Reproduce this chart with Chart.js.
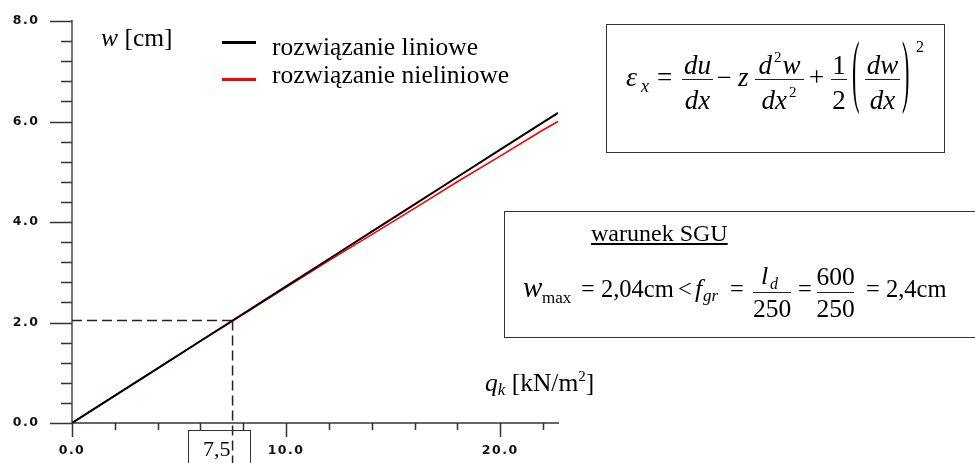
<!DOCTYPE html>
<html>
<head>
<meta charset="utf-8">
<script src="https://cdn.jsdelivr.net/npm/chart.js@4.4.1/dist/chart.umd.min.js"></script>
<style>
  html, body { margin: 0; padding: 0; background: #fff; }
  #wrap { position: relative; width: 975px; height: 463px; overflow: hidden;
          font-family: "Liberation Serif", "Times New Roman", serif; color: #000; }
  #chart { position: absolute; left: 0; top: 0; }
  .t { position: absolute; white-space: nowrap; line-height: 1; }
  .i { font-style: italic; }
  .sup { font-size: 15px; position: relative; top: -12px; margin: 0 1px 0 2px; font-style: normal; }
  .box { position: absolute; border: 1px solid #333; }
  .bar { position: absolute; height: 1px; background: #222; }
  .key { position: absolute; height: 3px; width: 34px; }
</style>
</head>
<body>
<div id="wrap">
  <canvas id="chart" width="975" height="463"></canvas>
  <div class="key" style="left:222px;top:41px;background:#000"></div>
  <div class="key" style="left:222px;top:78px;background:#f00"></div>
  <div class="box" style="left:606px;top:24px;width:337px;height:127px"></div>
  <div class="box" style="left:504px;top:211px;width:480px;height:125px"></div>
  <div class="box" style="left:188px;top:430px;width:61px;height:60px"></div>
</div>

<script>
// ---- dane ----
const qk      = [0, 2, 4, 6, 7.5, 10, 12, 14, 16, 18, 20, 22, 22.7];            // kN/m2
const wLinear = [0, 0.544, 1.088, 1.632, 2.04, 2.72, 3.264, 3.808, 4.352, 4.896, 5.44, 5.984, 6.17];
const wNonlin = [0, 0.543, 1.086, 1.628, 2.03, 2.70, 3.23, 3.75, 4.27, 4.80, 5.31, 5.83, 6.00];
const qLabels = [0, 10, 20];          // opisane wartosci osi q
const wLabels = [0, 2, 4, 6, 8];      // opisane wartosci osi w
const qSGU = 7.5;                     // obciazenie charakterystyczne
const wSGU = 2.04;                    // ugiecie przy qSGU

const wrap = document.getElementById("wrap");

// tekst w HTML, pozycja wg linii bazowej
function put(x, base, size, html, cls, center) {
  const s = document.createElement("span");
  s.className = "t " + (cls || "");
  s.style.fontSize = size + "px";
  s.style.left = x + "px";
  s.style.top = (base - 0.8375 * size) + "px";
  if (center) s.style.transform = "translateX(-50%)";
  s.innerHTML = html;
  wrap.appendChild(s);
  return s;
}
function bar(x1, x2, y) {
  const d = document.createElement("div");
  d.className = "bar";
  d.style.left = x1 + "px";
  d.style.width = (x2 - x1) + "px";
  d.style.top = y + "px";
  wrap.appendChild(d);
}
function paren(x, ch) {
  const s = put(x, 85, 28, ch);
  s.style.top = "61.7px";
  s.style.transformOrigin = "50% 16.3px";
  s.style.transform = "scale(0.8, 2.85)";
}

// opisy osi i legenda
put(101, 46.7, 25.5, '<span class="i">w</span> [cm]');
put(272, 55, 25.5, "rozwiązanie liniowe");
put(272, 83.3, 25.5, "rozwiązanie nieliniowe");
put(485, 391.7, 25.5, '<span class="i">q<span style="font-size:17px;position:relative;top:4px">k</span></span> [kN/m<span style="font-size:15px;position:relative;top:-10px">2</span>]');
put(203, 456.7, 22, "7,5");

// wzor na odksztalcenie
const NB = 74.5, DB = 110, F = 27;   // linie bazowe licznika i mianownika
put(626, 86, 28, "ε", "i");
put(641, 92, 18, "x", "i");
put(657, 87, 27, "=");
bar(682, 713, 79); put(697.5, NB, F, "du", "i", true); put(697.5, DB, F, "dx", "i", true);
put(717, 87, 26, "−");
put(738, 87, 27, "z", "i");
bar(755, 804, 79); put(779.5, NB, F, 'd<span class="sup">2</span>w', "i", true); put(779.5, DB, F, 'dx<span class="sup">2</span>', "i", true);
put(809, 87, 27, "+");
bar(831, 847, 79); put(839, NB, F, "1", "", true); put(839, DB, F, "2", "", true);
paren(851, "(");
bar(865, 900, 79); put(882.5, NB, F, "dw", "i", true); put(882.5, DB, F, "dx", "i", true);
paren(901, ")");
put(916, 52, 16, "2");

// warunek SGU
put(591, 241.5, 24, "<u>warunek SGU</u>");
put(523, 297.5, 29, "w", "i");
put(542, 303, 17, "max");
put(581, 298, 24.5, "= 2,04cm");
put(678, 298, 24.5, "&lt;");
put(695, 298, 26, "f", "i");
put(703, 301, 17, "gr", "i");
put(730, 298, 24.5, "=");
bar(753, 791, 292); put(761, 285, 26, "l", "i"); put(770, 289, 16, "d", "i"); put(772, 317.5, 25.5, "250", "", true);
put(798, 298, 24.5, "=");
bar(817, 854, 292); put(835.5, 285, 25.5, "600", "", true); put(835.5, 317.5, 25.5, "250", "", true);
put(866, 298, 24.5, "= 2,4cm");

// ---- wykres ----
const tickFont = { family: "DejaVu Sans", size: 12.5, weight: "bold" };
const near = (v, list) => list.some(l => Math.abs(v - l) < 1e-6);

// kreski podzialki: dluzsze przy opisanych wartosciach
const tickMarks = {
  id: "tickMarks",
  beforeDraw(chart) { chart.ctx.letterSpacing = "1.5px"; },
  afterDraw(chart) {
    const { ctx, chartArea, scales } = chart;
    ctx.save();
    ctx.strokeStyle = "#333";
    ctx.lineWidth = 1.5;
    ctx.beginPath();
    scales.x.ticks.forEach(t => {
      const px = Math.round(scales.x.getPixelForValue(t.value)) + 0.5;
      const len = near(t.value, qLabels) ? 14 : 7;
      ctx.moveTo(px, chartArea.bottom);
      ctx.lineTo(px, chartArea.bottom + len);
    });
    scales.y.ticks.forEach(t => {
      const py = Math.round(scales.y.getPixelForValue(t.value)) + 0.5;
      const len = near(t.value, wLabels) ? 22 : 11;
      ctx.moveTo(chartArea.left, py);
      ctx.lineTo(chartArea.left - len, py);
    });
    ctx.stroke();
    ctx.restore();
  }
};

new Chart(document.getElementById("chart"), {
  type: "scatter",
  data: {
    datasets: [
      {
        label: "rozwiązanie liniowe",
        data: qk.map((q, i) => ({ x: q, y: wLinear[i] })),
        borderColor: "#000",
        borderWidth: 2
      },
      {
        label: "rozwiązanie nieliniowe",
        data: qk.map((q, i) => ({ x: q, y: wNonlin[i] })),
        borderColor: "#f00",
        borderWidth: 1.6
      },
      {
        data: [{ x: 0, y: wSGU }, { x: qSGU, y: wSGU }],
        borderColor: "#222",
        borderWidth: 1.5,
        borderDash: [10, 5]
      },
      {
        data: [{ x: qSGU, y: wSGU }, { x: qSGU, y: -0.9 }],
        borderColor: "#222",
        borderWidth: 1.5,
        borderDash: [10, 5],
        clip: false
      }
    ].map(d => Object.assign({ showLine: true, pointRadius: 0, tension: 0 }, d))
  },
  options: {
    responsive: false,
    animation: false,
    layout: { padding: { top: 21, right: 417, bottom: 0, left: 0 } },
    plugins: { legend: { display: false }, tooltip: { enabled: false } },
    scales: {
      x: {
        type: "linear",
        min: 0,
        max: 22.7,
        grid: { display: false, drawTicks: false },
        border: { display: true, color: "#666", width: 2 },
        ticks: {
          stepSize: 2,
          autoSkip: false,
          includeBounds: false,
          maxRotation: 0,
          padding: 20,
          color: "#111",
          font: tickFont,
          callback: v => (near(v, qLabels) ? v.toFixed(1) : "")
        },
        afterFit: s => { s.height = 40; s.paddingLeft = 0; s.paddingRight = 0; }
      },
      y: {
        min: 0,
        max: 8,
        grid: { display: false, drawTicks: false },
        border: { display: true, color: "#777", width: 2 },
        ticks: {
          stepSize: 0.4,
          autoSkip: false,
          includeBounds: false,
          padding: 32.5,
          color: "#111",
          font: tickFont,
          callback: v => (near(v, wLabels) ? v.toFixed(1) : "")
        },
        afterFit: s => { s.width = 72; s.paddingTop = 0; s.paddingBottom = 0; }
      }
    }
  },
  plugins: [tickMarks]
});
</script>
</body>
</html>
